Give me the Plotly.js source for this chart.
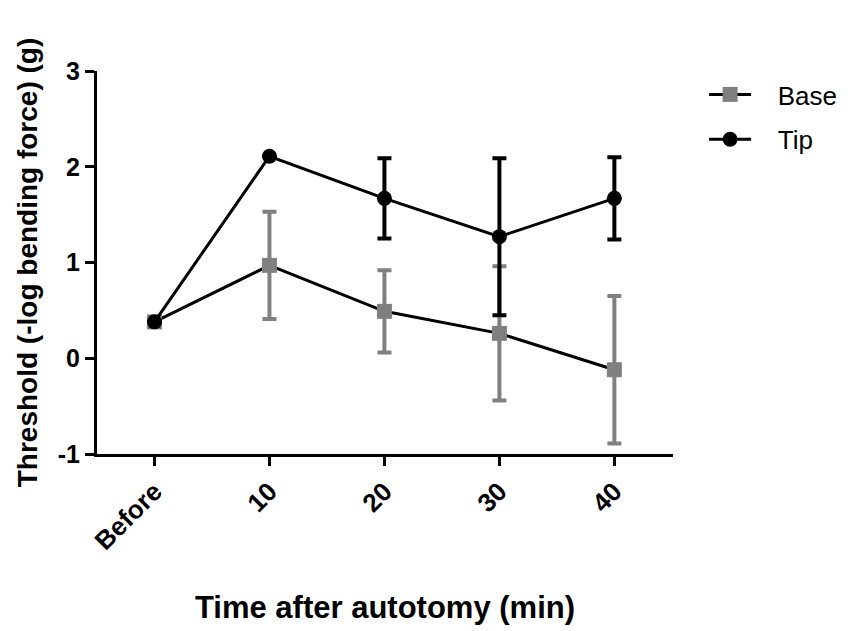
<!DOCTYPE html>
<html>
<head>
<meta charset="utf-8">
<script src="https://cdn.plot.ly/plotly-3.0.1.min.js"></script>
<style>body{margin:0;background:#fff;}#chart{width:854px;height:631px;}</style>
</head>
<body>
<div id="chart"></div>
<script>
const categories = ['Before', '10', '20', '30', '40'];
const seriesNames = ['Base', 'Tip'];
const baseMean = [0.38, 0.97, 0.49, 0.26, -0.12];
const baseErr = [0.05, 0.56, 0.43, 0.70, 0.77];
const tipMean = [0.38, 2.11, 1.67, 1.27, 1.67];
const tipErr = [null, null, 0.42, 0.82, 0.43];
const yTickVals = [-1, 0, 1, 2, 3];
const yTickText = ['-1', '0', '1', '2', '3'];

const FONT = 'Liberation Sans, Arial, sans-serif';
const PAD = '\u00a0\u00a0\u00a0';

const traces = [
  {
    name: PAD + seriesNames[0], x: categories, y: baseMean, type: 'scatter', mode: 'lines+markers',
    line: {color: '#000000', width: 3},
    marker: {symbol: 'square', size: 15, color: '#808080'},
    error_y: {type: 'data', array: baseErr, visible: true, color: '#808080', thickness: 4, width: 7},
    legendgroup: 'a'
  },
  {
    name: PAD + seriesNames[1], x: categories, y: tipMean, type: 'scatter', mode: 'lines+markers',
    line: {color: '#000000', width: 3},
    marker: {symbol: 'circle', size: 15, color: '#000000'},
    error_y: {type: 'data', array: tipErr, visible: true, color: '#000000', thickness: 4, width: 7},
    legendgroup: 'b'
  }
];

const layout = {
  width: 854, height: 631,
  paper_bgcolor: '#ffffff', plot_bgcolor: '#ffffff',
  margin: {l: 97, r: 179, t: 71, b: 177},
  font: {family: FONT, color: '#000000'},
  showlegend: true,
  legend: {
    x: 1.054, y: 1.0, xanchor: 'left', yanchor: 'top',
    font: {family: FONT, size: 26, color: '#000000'},
    itemwidth: 42,
    tracegroupgap: 8, bgcolor: 'rgba(0,0,0,0)'
  },
  xaxis: {
    type: 'category', range: [-0.5, 4.51],
    showline: true, linecolor: '#000000', linewidth: 3,
    ticks: 'outside', ticklen: 9, tickwidth: 3, tickcolor: '#000000',
    tickangle: -45, showgrid: false, zeroline: false,
    tickfont: {family: FONT, size: 26, color: '#000000', weight: 'bold'},
    title: {text: '<b>Time after autotomy (min)</b>', font: {family: FONT, size: 31, color: '#000000'}, standoff: 42}
  },
  yaxis: {
    range: [-1, 3], tickvals: yTickVals, ticktext: yTickText,
    showline: true, linecolor: '#000000', linewidth: 3,
    ticks: 'outside', ticklen: 9, tickwidth: 3, tickcolor: '#000000',
    showgrid: false, zeroline: false,
    tickfont: {family: FONT, size: 25, color: '#000000', weight: 'bold'},
    title: {text: '<b>Threshold (-log bending force) (g)</b>', font: {family: FONT, size: 28, color: '#000000'}, standoff: 12}
  }
};

Plotly.newPlot('chart', traces, layout, {displayModeBar: false, staticPlot: true});
</script>
</body>
</html>
